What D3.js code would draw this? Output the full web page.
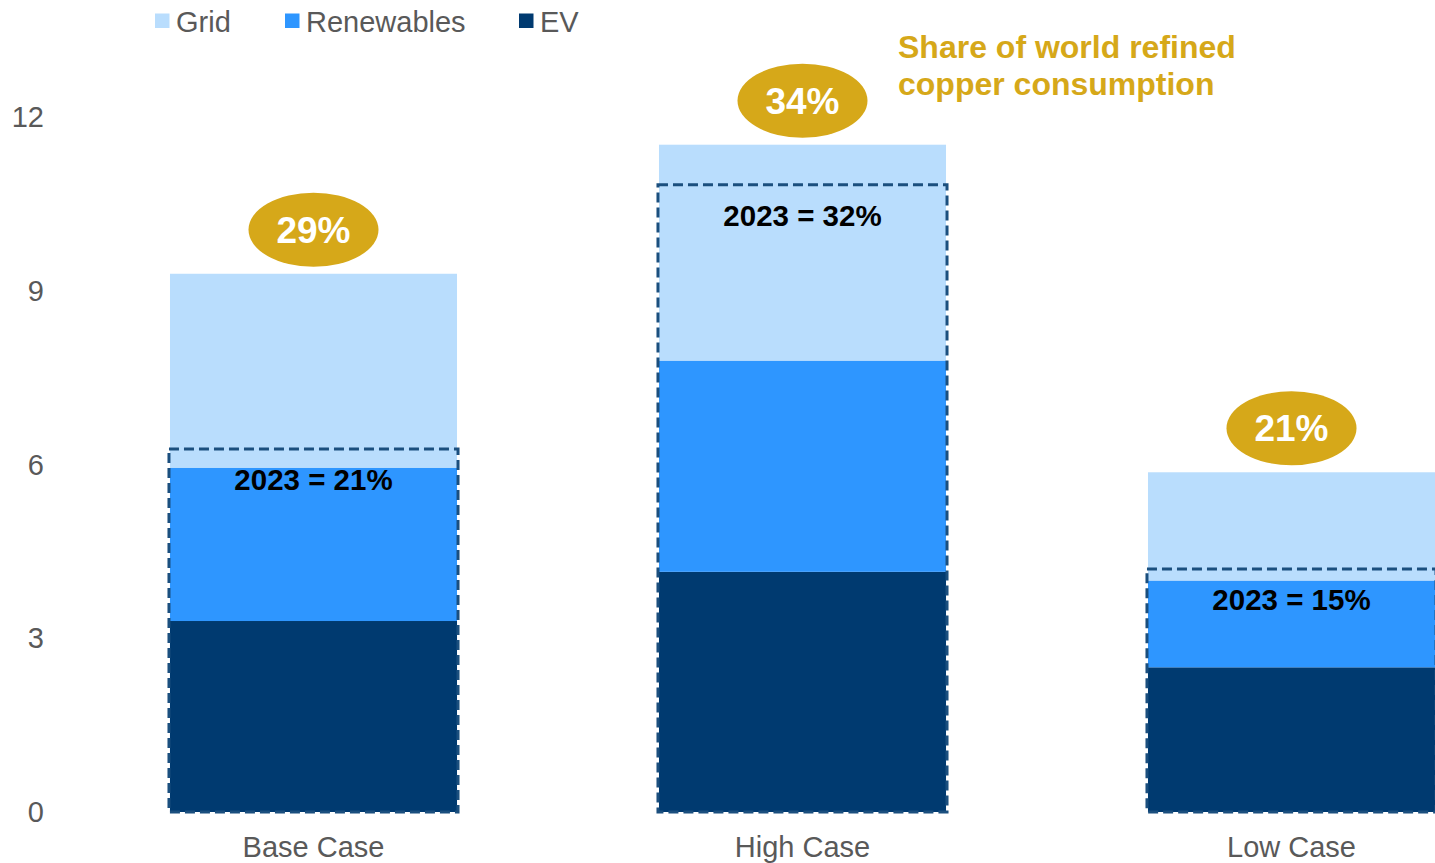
<!DOCTYPE html>
<html>
<head>
<meta charset="utf-8">
<script src="https://cdn.jsdelivr.net/npm/d3@7"></script>
<style>
  html, body { margin: 0; padding: 0; background: #fff; }
  svg { display: block; font-family: "Liberation Sans", Arial, sans-serif; }
</style>
</head>
<body>
<svg id="chart" width="1435" height="863"></svg>
<script>
// Copper demand by scenario (million tonnes), split by end use
const categories = ["Base Case", "High Case", "Low Case"];
const seriesNames = ["EV", "Renewables", "Grid"];
const evValues = [3.3, 4.15, 2.5];
const renewablesValues = [2.65, 3.65, 1.5];
const gridValues = [3.35, 3.73, 1.87];
// Share of world refined copper consumption, future scenario
const shareLabels = ["29%", "34%", "21%"];
// 2023 reference level and share
const level2023 = [6.27, 10.84, 4.2];
const share2023Labels = ["2023 = 21%", "2023 = 32%", "2023 = 15%"];
const yTicks = [0, 3, 6, 9, 12];
const legendOrder = ["Grid", "Renewables", "EV"];

const colors = { Grid: "#b9ddfd", Renewables: "#2e96ff", EV: "#003a70" };
const gold = "#d6a819";
const textGrey = "#595959";

const svg = d3.select("#chart");

const x = d3.scaleBand()
  .domain(categories)
  .range([69, 1536])
  .paddingInner(0.413)
  .paddingOuter(0.2065);

const y = d3.scaleLinear().domain([0, 12]).range([812, 117.5]);

// Stack the three end-use series
const rows = categories.map((c, i) => ({
  category: c,
  EV: evValues[i],
  Renewables: renewablesValues[i],
  Grid: gridValues[i]
}));
const stacked = d3.stack().keys(seriesNames)(rows);

// y axis: labels only
const yAxis = d3.axisLeft(y).tickValues(yTicks).tickSize(0).tickPadding(0);
const gy = svg.append("g").attr("transform", "translate(44,0)").call(yAxis);
gy.select(".domain").remove();
gy.selectAll("text")
  .attr("fill", textGrey)
  .style("font-size", "29px")
  .style("font-family", "Liberation Sans, Arial, sans-serif");

// x axis: category labels only
const xAxis = d3.axisBottom(x).tickSize(0).tickPadding(0);
const gx = svg.append("g").attr("transform", "translate(0,836)").call(xAxis);
gx.select(".domain").remove();
gx.selectAll("text")
  .attr("fill", textGrey)
  .style("font-size", "29px")
  .style("font-family", "Liberation Sans, Arial, sans-serif");

// Stacked bars
svg.append("g").selectAll("g")
  .data(stacked)
  .join("g")
  .attr("fill", d => colors[d.key])
  .selectAll("rect")
  .data(d => d)
  .join("rect")
  .attr("x", d => x(d.data.category))
  .attr("width", x.bandwidth())
  .attr("y", d => y(d[1]))
  .attr("height", d => y(d[0]) - y(d[1]));

// 2023 reference boxes (dashed outline)
svg.append("g").selectAll("rect")
  .data(categories)
  .join("rect")
  .attr("x", c => x(c) - 1)
  .attr("width", x.bandwidth() + 2)
  .attr("y", (c, i) => y(level2023[i]))
  .attr("height", (c, i) => y(0) - y(level2023[i]))
  .attr("fill", "none")
  .attr("stroke", "#1b4f7e")
  .attr("stroke-width", 3)
  .attr("stroke-dasharray", "10,5");

// 2023 share labels
svg.append("g").selectAll("text")
  .data(categories)
  .join("text")
  .attr("x", c => x(c) + x.bandwidth() / 2)
  .attr("y", (c, i) => y(level2023[i]) + 41)
  .attr("text-anchor", "middle")
  .attr("fill", "#000")
  .style("font-size", "29.5px")
  .style("font-weight", "bold")
  .text((c, i) => share2023Labels[i]);

// Scenario share bubbles above each bar
const totals = rows.map(r => r.EV + r.Renewables + r.Grid);
const bubbles = svg.append("g").selectAll("g")
  .data(categories)
  .join("g")
  .attr("transform", (c, i) => `translate(${x(c) + x.bandwidth() / 2},${y(totals[i]) - 44})`);
bubbles.append("ellipse")
  .attr("rx", 65)
  .attr("ry", 37)
  .attr("fill", gold);
bubbles.append("text")
  .attr("text-anchor", "middle")
  .attr("dy", 13)
  .attr("fill", "#fff")
  .style("font-size", "37px")
  .style("font-weight", "bold")
  .text((c, i) => shareLabels[i]);

// Annotation for the bubbles
const note = svg.append("text")
  .attr("fill", gold)
  .style("font-size", "32px")
  .style("font-weight", "bold");
note.append("tspan").attr("x", 898).attr("y", 58).text("Share of world refined");
note.append("tspan").attr("x", 898).attr("y", 95).text("copper consumption");

// Legend
const legendX = [155, 285, 519];
const legend = svg.append("g").selectAll("g")
  .data(legendOrder)
  .join("g")
  .attr("transform", (d, i) => `translate(${legendX[i]},0)`);
legend.append("rect")
  .attr("y", 13.5)
  .attr("width", 14.5)
  .attr("height", 14.5)
  .attr("fill", d => colors[d]);
legend.append("text")
  .attr("x", 21)
  .attr("y", 32)
  .attr("fill", textGrey)
  .style("font-size", "29px")
  .text(d => d);
</script>
</body>
</html>
